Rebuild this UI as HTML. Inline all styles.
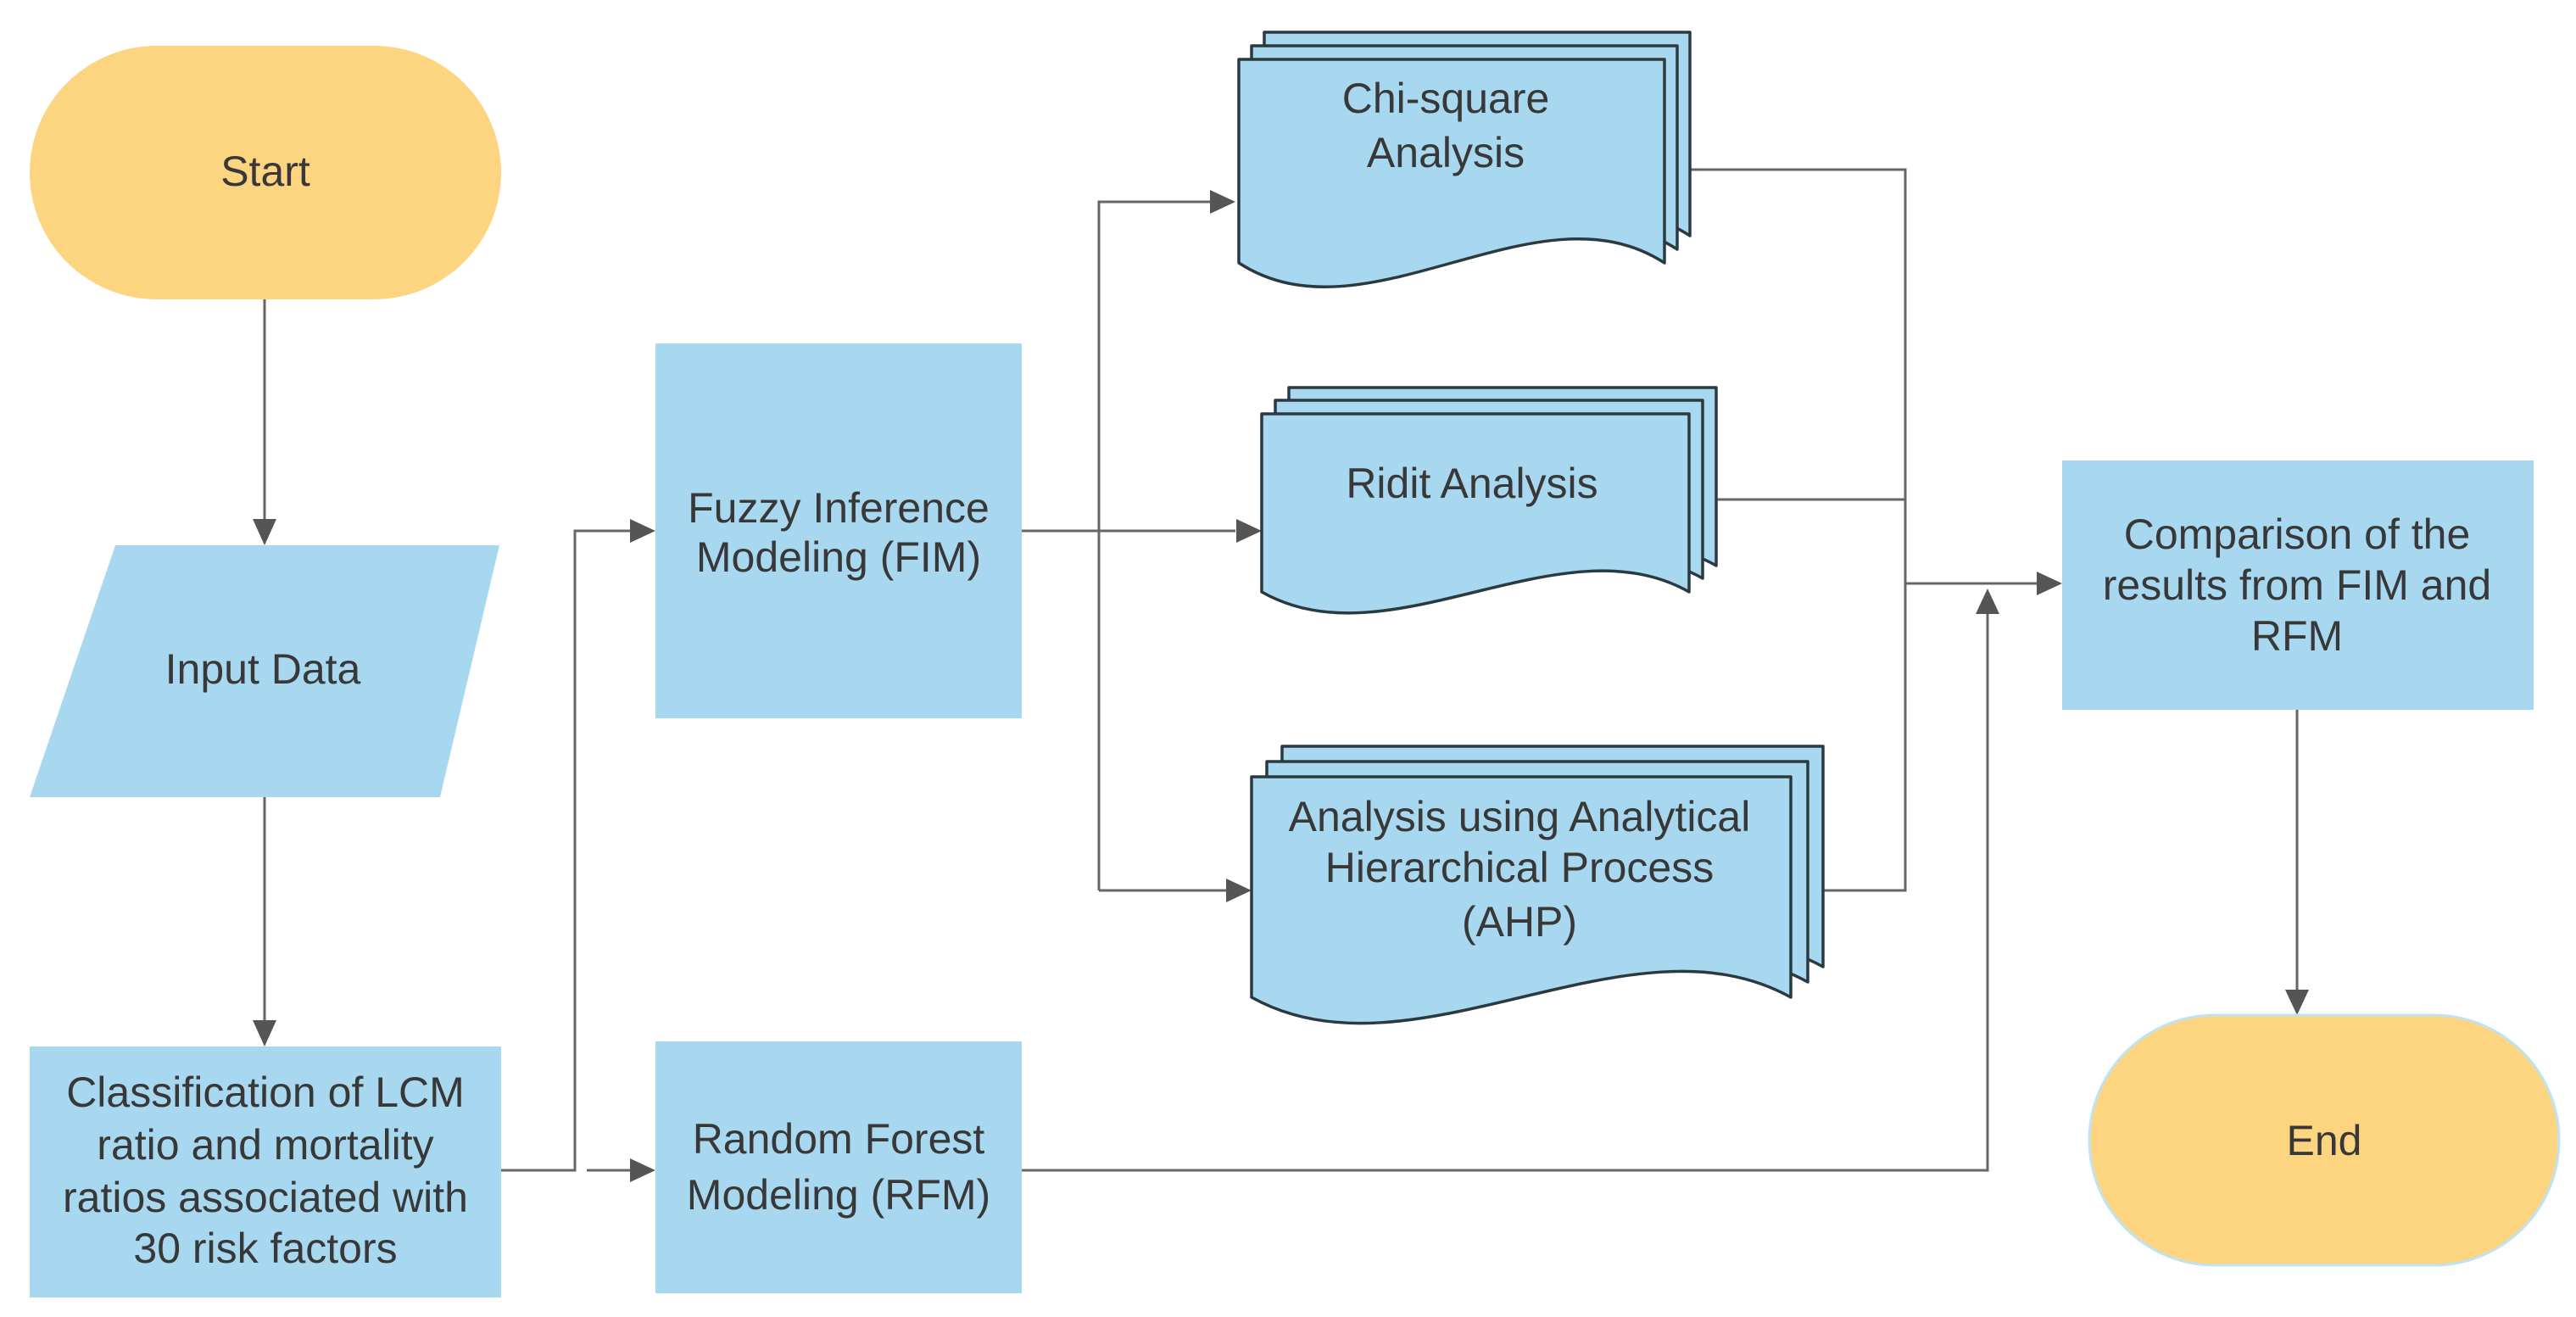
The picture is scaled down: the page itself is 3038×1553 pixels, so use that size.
<!DOCTYPE html>
<html><head><meta charset="utf-8"><style>
html,body{margin:0;padding:0;background:#fff}
svg{display:block}
text{font-family:"Liberation Sans",sans-serif;font-size:50px;fill:#383838;text-anchor:middle;dominant-baseline:central}
</style></head><body>
<svg width="3038" height="1553" viewBox="0 0 3038 1553" xmlns="http://www.w3.org/2000/svg">
<g fill="none" stroke="#666" stroke-width="3">
<line x1="312" y1="353" x2="312" y2="612"/>
<line x1="312" y1="940" x2="312" y2="1203"/>
<polyline points="591,1380 678,1380 678,626 743,626"/>
<line x1="692" y1="1380" x2="743" y2="1380"/>
<line x1="1205" y1="626" x2="1457" y2="626"/>
<polyline points="1296,1050 1296,238 1427,238"/>
<line x1="1296" y1="1050" x2="1446" y2="1050"/>
<polyline points="1992,200 2247,200 2247,1050 2151,1050"/>
<line x1="2025" y1="589" x2="2247" y2="589"/>
<line x1="2247" y1="688" x2="2402" y2="688"/>
<polyline points="1205,1380 2344,1380 2344,724"/>
<line x1="2709" y1="837" x2="2709" y2="1167"/>
</g>
<g fill="#555">
<path d="M298,612 L326,612 L312,643 Z"/>
<path d="M298,1203 L326,1203 L312,1234 Z"/>
<path d="M743,612 L773,626 L743,640 Z"/>
<path d="M743,1366 L773,1380 L743,1394 Z"/>
<path d="M1427,224 L1457,238 L1427,252 Z"/>
<path d="M1458,612 L1488,626 L1458,640 Z"/>
<path d="M1446,1036 L1476,1050 L1446,1064 Z"/>
<path d="M2402,674 L2432,688 L2402,702 Z"/>
<path d="M2330,724 L2358,724 L2344,694 Z"/>
<path d="M2695,1167 L2723,1167 L2709,1197 Z"/>
</g>
<rect x="35" y="54" width="556" height="299" rx="150" fill="#fdd581"/>
<text x="313" y="202">Start</text>
<polygon points="136,643 589,643 519,940 35,940" fill="#a8d8ef"/>
<text x="310" y="789">Input Data</text>
<rect x="35" y="1234" width="556" height="296" fill="#a8d8ef"/>
<text x="313" y="1288">Classification of LCM</text>
<text x="313" y="1350">ratio and mortality</text>
<text x="313" y="1412">ratios associated with</text>
<text x="313" y="1472">30 risk factors</text>
<rect x="773" y="405" width="432" height="442" fill="#a8d8ef"/>
<text x="989" y="599">Fuzzy Inference</text>
<text x="989" y="657">Modeling (FIM)</text>
<rect x="773" y="1228" width="432" height="297" fill="#a8d8ef"/>
<text x="989" y="1343">Random Forest</text>
<text x="989" y="1409">Modeling (RFM)</text>
<g fill="#a8d8ef" stroke="#2a3a40" stroke-width="3.5" stroke-linejoin="round">
<path d="M1491,38 H1993 V278 C1842,180 1642,376 1491,278 Z"/>
<path d="M1476,54 H1978 V294 C1827,196 1627,392 1476,294 Z"/>
<path d="M1461,70 H1963 V310 C1812,212 1612,408 1461,310 Z"/>
<path d="M1520,457 H2024 V667 C1872,581 1672,753 1520,667 Z"/>
<path d="M1504,472 H2008 V682 C1856,596 1656,768 1504,682 Z"/>
<path d="M1488,488 H1992 V698 C1840,612 1640,784 1488,698 Z"/>
<path d="M1512,880 H2150 V1140 C1958,1034 1704,1246 1512,1140 Z"/>
<path d="M1494,898 H2132 V1158 C1940,1052 1686,1264 1494,1158 Z"/>
<path d="M1476,916 H2112 V1176 C1921,1070 1667,1282 1476,1176 Z"/>
</g>
<text x="1705" y="116">Chi-square</text>
<text x="1705" y="180">Analysis</text>
<text x="1736" y="570">Ridit Analysis</text>
<text x="1792" y="963">Analysis using Analytical</text>
<text x="1792" y="1023">Hierarchical Process</text>
<text x="1792" y="1087">(AHP)</text>
<rect x="2432" y="543" width="556" height="294" fill="#a8d8ef"/>
<text x="2709" y="630">Comparison of the</text>
<text x="2709" y="690">results from FIM and</text>
<text x="2709" y="750">RFM</text>
<rect x="2464" y="1197" width="554" height="295" rx="148" fill="#fdd581" stroke="#bfe3f2" stroke-width="3"/>
<text x="2741" y="1345">End</text>
</svg>
</body></html>
